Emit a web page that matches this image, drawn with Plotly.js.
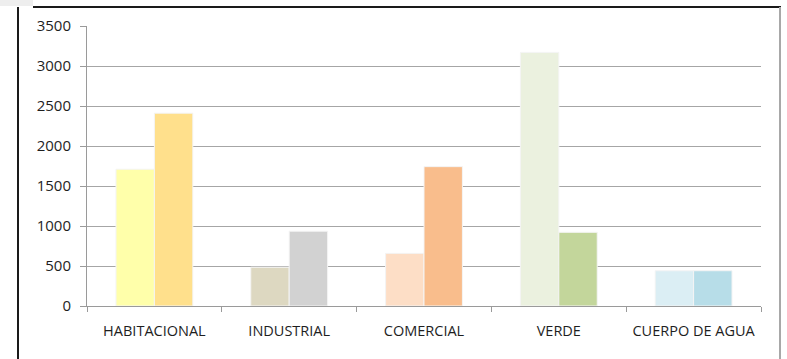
<!DOCTYPE html>
<html>
<head>
<meta charset="utf-8">
<script src="https://cdn.plot.ly/plotly-3.0.1.min.js"></script>
<style>
html,body{margin:0;padding:0;background:#fff;}
#wrap{position:relative;width:787px;height:359px;overflow:hidden;background:#fff;}
#chart{position:absolute;left:0;top:0;width:787px;height:359px;}
.deco{position:absolute;pointer-events:none;}
</style>
</head>
<body>
<div id="wrap">
<div id="chart"></div>
<div class="deco" style="left:0;top:0;width:33px;height:6px;background:#eeeeee;"></div>
<div class="deco" style="left:33px;top:6px;width:748px;height:2px;background:#1a1a1a;"></div>
<div class="deco" style="left:17px;top:7px;width:2px;height:352px;background:#1a1a1a;"></div>
<div class="deco" style="left:779px;top:7px;width:2px;height:352px;background:#a8a8a8;"></div>
</div>
<script>
var categories = ["HABITACIONAL", "INDUSTRIAL", "COMERCIAL", "VERDE", "CUERPO DE AGUA"];
var series1 = [1710, 485, 658, 3170, 441];
var series2 = [2410, 935, 1742, 921, 441];
var colors1 = ["#FFFFAA", "#DDD8C1", "#FDDEC6", "#EBF1DF", "#DBEEF4"];
var colors2 = ["#FFE08C", "#D2D2D2", "#F9BD8C", "#C3D69B", "#B7DDE8"];
var yTicks = [0, 500, 1000, 1500, 2000, 2500, 3000, 3500];

var traces = [
  {type: "bar", x: categories, y: series1, marker: {color: colors1, line: {color: "#f4f4f4", width: 1}}, hoverinfo: "x+y"},
  {type: "bar", x: categories, y: series2, marker: {color: colors2, line: {color: "#f4f4f4", width: 1}}, hoverinfo: "x+y"}
];

var layout = {
  width: 787, height: 359,
  margin: {l: 87, r: 26, t: 26, b: 53, pad: 0},
  paper_bgcolor: "rgba(0,0,0,0)",
  plot_bgcolor: "#ffffff",
  showlegend: false,
  barmode: "group",
  bargap: 0.43,
  bargroupgap: 0,
  font: {family: "Open Sans, sans-serif", size: 14, color: "#1e1e1e"},
  xaxis: {
    type: "category",
    tickson: "boundaries",
    ticks: "outside", ticklen: 5, tickcolor: "#9a9a9a", tickwidth: 1,
    showline: true, linecolor: "#9a9a9a", linewidth: 1,
    showgrid: false, zeroline: false,
    ticklabelstandoff: 12,
    tickfont: {family: "Open Sans, sans-serif", size: 14.5, color: "#1e1e1e"},
    fixedrange: true
  },
  yaxis: {
    range: [0, 3500],
    tickvals: yTicks,
    ticktext: yTicks.map(String),
    ticks: "outside", ticklen: 6, tickcolor: "#9a9a9a", tickwidth: 1,
    showline: true, linecolor: "#9a9a9a", linewidth: 1,
    showgrid: true, gridcolor: "#a6a6a6", gridwidth: 1,
    zeroline: false,
    ticklabelstandoff: 6,
    tickfont: {family: "Open Sans, sans-serif", size: 15, color: "#1e1e1e"},
    fixedrange: true
  }
};

Plotly.newPlot("chart", traces, layout, {displayModeBar: false, staticPlot: true});
</script>
</body>
</html>
